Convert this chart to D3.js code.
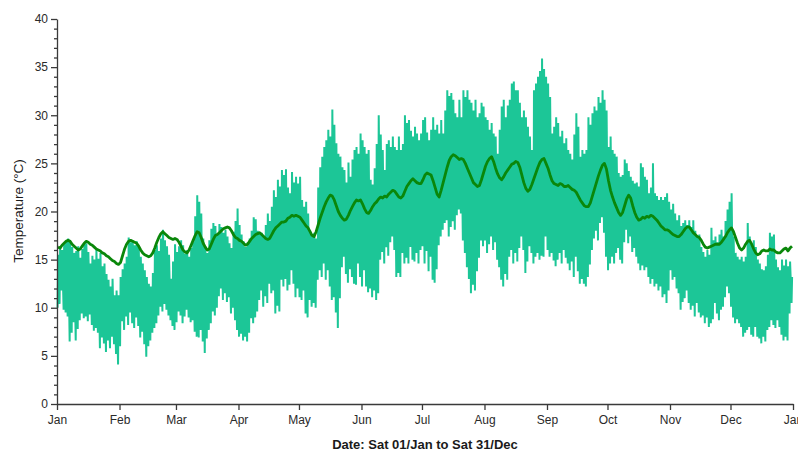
<!DOCTYPE html>
<html>
<head>
<meta charset="utf-8">
<script src="https://cdn.jsdelivr.net/npm/d3@7"></script>
<style>
  html, body { margin: 0; padding: 0; background: #fff; }
  svg { display: block; }
</style>
</head>
<body>
<svg id="chart" width="798" height="452"></svg>
<script>
// Month tick labels along the date axis (first of each month, plus the next Jan)
const monthLabels = ["Jan", "Feb", "Mar", "Apr", "May", "Jun", "Jul", "Aug", "Sep", "Oct", "Nov", "Dec", "Jan"];

// Temperature axis ticks (°C)
const yMajorTicks = [0, 5, 10, 15, 20, 25, 30, 35, 40];

// Air temperature: daily minimum and maximum, 1 Jan .. 31 Dec
const dailyMin = [
  10.0, 10.4, 11.8, 9.8, 9.5, 9.1, 6.5, 7.4, 8.5, 6.6,
  7.8, 8.7, 9.4, 8.9, 9.1, 8.6, 9.3, 8.2, 7.6, 7.9,
  7.4, 5.8, 6.9, 6.3, 5.4, 6.6, 5.8, 7.0, 6.2, 5.2, 4.1,
  6.0, 8.6, 7.7, 9.1, 8.2, 9.5, 8.4, 7.9, 9.0, 8.1,
  6.9, 7.5, 6.2, 4.9, 6.0, 6.6, 7.4, 7.9, 8.4, 9.2,
  10.1, 9.6, 10.4, 9.8, 9.2, 8.7, 8.1, 7.7, 8.5, 9.6,
  9.2, 8.4, 9.1, 9.8, 9.0, 8.5, 8.7, 7.5, 7.0, 6.9,
  7.7, 6.5, 5.3, 6.8, 7.7, 8.4, 9.6, 9.2, 10.0, 11.2,
  12.0, 10.8, 11.5, 10.6, 11.1, 9.4, 10.0, 8.7, 7.7, 7.0,
  7.3, 6.6, 7.0, 6.5, 7.4, 8.9, 8.4, 9.0, 9.6, 10.8,
  11.8, 10.1, 11.2, 10.5, 12.5, 11.5, 11.8, 9.4, 10.2, 9.6,
  12.9, 12.2, 13.0, 11.8, 12.4, 13.9, 12.5, 11.1, 12.0, 11.1,
  10.8, 11.8, 9.4, 9.0, 10.8, 10.1, 10.5, 10.0, 12.9, 13.9,
  13.2, 14.6, 12.9, 13.9, 12.2, 10.8, 11.1, 9.5, 7.9, 11.0,
  14.2, 15.3, 13.5, 12.6, 14.0, 13.2, 12.5, 12.4, 14.6, 13.2,
  12.2, 13.9, 12.2, 11.6, 12.0, 11.1, 11.8, 10.8, 11.5, 15.0,
  15.8, 14.6, 16.3, 15.4, 16.8, 17.4, 16.0, 13.2, 13.6, 13.2,
  15.7, 14.6, 15.2, 14.6, 16.3, 15.0, 14.8, 15.7, 14.6, 16.0,
  16.4, 14.6, 15.9, 13.8, 15.3, 12.9, 12.6, 14.0, 16.5, 17.4,
  18.1, 18.8, 19.1, 17.4, 18.4, 19.0, 18.1, 19.6, 20.2, 19.8,
  17.0, 15.7, 14.2, 13.0, 11.5, 12.4, 11.8, 13.8, 15.2, 17.0,
  16.4, 17.0, 15.7, 16.6, 17.4, 16.0, 16.8, 15.0, 14.2, 12.9,
  12.2, 13.5, 12.9, 15.3, 16.0, 14.6, 15.7, 14.8, 16.2, 17.4,
  16.0, 13.6, 14.8, 16.4, 15.7, 14.6, 15.3, 15.7, 15.0, 15.4,
  15.3, 17.4, 16.0, 15.3, 15.7, 14.9, 14.3, 15.0, 15.7, 14.6,
  16.0, 15.2, 14.6, 13.9, 14.8, 13.2, 15.3, 13.8, 12.5, 13.0,
  12.5, 12.2, 13.2, 14.5, 16.0, 17.2, 18.0, 17.0, 18.8, 19.4,
  17.8, 15.3, 13.9, 14.6, 15.3, 14.6, 15.7, 16.2, 15.0, 14.6,
  16.8, 18.1, 16.7, 17.4, 15.8, 16.2, 15.3, 14.6, 13.9, 14.4,
  13.9, 14.2, 13.2, 12.5, 13.0, 12.2, 12.5, 11.8, 12.2, 11.1,
  11.4, 10.5, 11.8, 13.9, 12.9, 13.2, 12.0, 11.5, 9.8, 10.6,
  11.0, 11.8, 10.5, 9.8, 10.2, 9.1, 10.5, 9.5, 9.0, 9.2,
  8.4, 9.0, 8.0, 8.4, 8.8, 10.5, 9.4, 8.7, 9.8, 10.1,
  11.1, 12.2, 11.5, 10.1, 9.0, 8.4, 8.8, 8.4, 8.0, 7.0,
  7.4, 7.7, 8.0, 7.2, 7.0, 8.0, 7.0, 6.8, 6.3, 7.0,
  6.5, 7.7, 8.0, 8.7, 8.2, 7.9, 8.7, 8.0, 7.2, 6.6, 7.0, 6.6, 9.4, 10.5
];

const dailyMax = [
  15.5, 16.2, 16.0, 16.6, 16.9, 17.2, 16.8, 16.3, 15.7, 15.9,
  16.4, 15.2, 16.1, 16.6, 16.7, 15.8, 14.6, 15.4, 15.0, 16.0,
  15.1, 15.7, 14.3, 14.6, 13.5, 12.9, 12.2, 13.0, 11.3, 11.8, 11.3,
  13.2, 14.0, 14.6, 15.3, 17.3, 16.8, 17.0, 16.5, 16.9, 16.3,
  15.3, 14.6, 13.9, 13.2, 12.5, 12.2, 13.6, 16.0, 16.5, 15.9,
  17.2, 18.1, 17.0, 16.4, 15.5, 13.0, 14.8, 16.6, 15.8, 16.4,
  17.0, 16.5, 15.6, 16.0, 15.3, 16.2, 16.8, 19.5, 21.7, 21.0,
  19.8, 17.2, 16.3, 15.7, 17.0, 18.2, 18.8, 18.5, 17.6, 18.7,
  18.4, 17.8, 18.1, 17.4, 16.7, 16.2, 17.9, 19.0, 20.3, 18.6,
  17.6, 16.9, 16.3, 16.8, 17.2, 18.0, 19.4, 19.2, 18.0, 17.8,
  17.8, 17.4, 18.6, 19.8, 19.0, 20.5, 22.2, 21.5, 23.3, 22.6,
  24.3, 23.8, 24.4, 22.5, 21.9, 24.1, 23.0, 23.6, 22.9, 23.6,
  21.2, 20.5, 21.0, 19.8, 18.0, 17.4, 17.8, 17.2, 22.5, 24.6,
  25.7, 26.7, 27.4, 28.5, 27.8, 30.6, 29.0, 27.1, 26.0, 25.7,
  24.6, 24.3, 23.0, 25.1, 23.6, 25.4, 26.4, 26.7, 26.0, 28.1,
  27.4, 26.7, 26.0, 26.4, 23.3, 22.8, 24.5, 27.0, 30.0, 28.0,
  26.4, 24.3, 27.0, 27.4, 26.7, 27.8, 26.7, 26.4, 27.8, 26.4,
  27.0, 30.0, 29.2, 29.5, 28.4, 27.8, 28.8, 28.1, 27.4, 28.1,
  29.5, 29.8, 28.2, 27.4, 28.5, 29.8, 28.5, 29.0, 28.1, 29.5,
  28.1, 30.5, 32.6, 32.0, 32.3, 31.6, 30.2, 29.8, 31.6, 29.8,
  32.6, 31.9, 32.6, 31.6, 31.3, 30.5, 31.6, 29.8, 30.2, 31.3,
  30.9, 29.8, 29.5, 28.5, 29.2, 28.1, 27.8, 26.0, 28.5, 30.9,
  31.6, 29.8, 31.0, 31.6, 33.3, 33.5, 32.6, 32.6, 31.3, 29.8,
  30.5, 29.8, 28.8, 27.8, 26.4, 32.6, 33.3, 34.0, 34.6, 35.9,
  34.8, 34.0, 33.3, 31.9, 28.1, 28.8, 29.8, 29.2, 27.8, 28.4,
  27.1, 27.6, 26.4, 26.0, 25.4, 28.0, 30.2, 28.8, 25.7, 26.4,
  26.0, 26.4, 29.8, 29.0, 30.2, 30.9, 30.5, 31.9, 31.3, 32.6,
  31.6, 30.5, 26.7, 27.8, 26.4, 26.0, 25.7, 24.0, 23.6, 23.8,
  25.4, 25.0, 24.2, 23.6, 23.2, 22.9, 23.0, 22.6, 25.0, 24.6,
  23.6, 23.3, 21.9, 22.5, 25.0, 21.9, 21.6, 21.2, 21.5, 21.2,
  21.5, 21.9, 21.0, 20.2, 20.8, 19.8, 19.1, 19.6, 18.5, 18.8,
  19.1, 18.6, 19.1, 18.4, 19.1, 18.0, 17.4, 17.6, 16.3, 15.8,
  15.3, 16.0, 15.5, 18.3, 17.0, 17.4, 16.8, 17.6, 18.1, 17.4,
  19.0, 20.2, 21.0, 21.9, 17.4, 15.7, 15.3, 15.0, 15.3, 14.8,
  15.3, 18.8, 17.4, 16.6, 17.0, 16.3, 15.0, 14.6, 14.0, 13.9,
  14.3, 15.5, 17.8, 17.4, 17.6, 15.0, 14.2, 13.9, 15.0, 14.4, 15.0, 14.3, 14.8, 13.2
];

// Slow-moving temperature trace, one value per day
const smoothTemp = [
  16.3, 16.2, 16.5, 16.7, 16.9, 17.0, 16.9, 16.6, 16.4, 16.2,
  16.0, 16.1, 16.4, 16.7, 16.9, 16.8, 16.6, 16.5, 16.3, 16.1,
  16.0, 15.9, 15.7, 15.6, 15.4, 15.3, 15.1, 14.9, 14.8, 14.6,
  14.5, 14.7, 15.4, 16.1, 16.6, 16.9, 17.0, 16.9, 16.8, 16.7,
  16.4, 16.0, 15.7, 15.5, 15.4, 15.3, 15.4, 15.7, 16.2, 16.8,
  17.3, 17.7, 17.9, 17.7, 17.5, 17.3, 17.2, 17.1, 17.2, 17.1,
  16.8, 16.4, 16.0, 15.8, 15.7, 16.0, 16.5, 17.0, 17.5, 17.9,
  17.8, 17.3, 16.7, 16.3, 16.0, 16.1, 16.6, 17.1, 17.5, 17.6,
  17.8, 18.0, 18.2, 18.3, 18.4, 18.3, 18.0, 17.6, 17.3, 17.2,
  17.0, 16.9, 16.7, 16.5, 16.6, 16.9, 17.2, 17.4, 17.6, 17.7,
  17.8, 17.6, 17.4, 17.2, 17.1, 17.2, 17.6, 18.0, 18.3, 18.5,
  18.7, 18.9, 18.9, 19.0, 19.3, 19.4, 19.6, 19.5, 19.6, 19.5,
  19.4, 19.1, 18.8, 18.5, 18.3, 17.9, 17.5, 17.4, 17.9, 18.6,
  19.3, 19.9, 20.5, 21.0, 21.4, 21.7, 21.6, 21.2, 20.6, 20.0,
  19.6, 19.3, 19.1, 19.2, 19.6, 20.1, 20.5, 20.9, 21.2, 21.1,
  21.2, 20.8, 20.3, 19.9, 19.8, 20.1, 20.5, 20.8, 21.0, 21.3,
  21.5, 21.4, 21.6, 21.5, 21.8, 22.0, 22.2, 22.1, 21.8, 21.5,
  21.4, 21.6, 22.1, 22.6, 22.9, 23.2, 23.4, 23.2, 23.0, 22.9,
  22.9, 23.3, 23.8, 24.0, 23.9, 23.8, 23.2, 22.5, 21.8, 21.5,
  22.2, 23.0, 23.8, 24.6, 25.3, 25.7, 25.9, 25.8, 25.6, 25.4,
  25.5, 25.4, 25.0, 24.5, 24.0, 23.5, 23.0, 22.8, 22.6, 22.7,
  23.3, 24.0, 24.7, 25.2, 25.5, 25.7, 25.2, 24.5, 23.9, 23.5,
  23.3, 23.6, 24.0, 24.3, 24.6, 24.9, 25.0, 25.2, 25.1, 24.6,
  23.8, 23.0, 22.4, 22.1, 22.3, 22.8, 23.4, 24.0, 24.6, 25.1,
  25.4, 25.5, 25.0, 24.5, 23.8, 23.2, 22.9, 22.8, 22.7, 22.9,
  22.8, 22.6, 22.6, 22.7, 22.5, 22.3, 22.2, 22.0, 21.6, 21.2,
  20.9, 20.6, 20.5, 20.5, 20.9, 21.6, 22.3, 23.0, 23.7, 24.3,
  24.8, 25.0, 24.4, 23.2, 22.2, 21.5, 20.9, 20.4, 19.9, 19.6,
  19.9, 20.6, 21.3, 21.7, 21.4, 20.6, 19.9, 19.4, 19.1, 19.2,
  19.4, 19.3, 19.5, 19.4, 19.6, 19.5, 19.3, 19.1, 18.8, 18.5,
  18.3, 18.1, 18.1, 18.0, 17.8, 17.6, 17.5, 17.4, 17.4, 17.6,
  17.9, 18.2, 18.4, 18.4, 18.1, 17.8, 17.6, 17.4, 17.3, 17.0,
  16.6, 16.3, 16.2, 16.3, 16.4, 16.5, 16.6, 16.6, 16.6, 16.8,
  17.1, 17.4, 17.8, 18.1, 18.3, 17.9, 17.3, 16.7, 16.2, 16.0,
  16.2, 16.6, 16.9, 17.0, 16.6, 16.1, 15.7, 15.5, 15.6, 15.9,
  16.0, 15.9, 15.9, 16.1, 16.0, 16.0, 15.8, 15.7, 15.7, 15.9,
  16.1, 16.2, 15.9, 16.2, 16.4
];

const width = 798, height = 452;
const margin = { top: 19, right: 5, bottom: 48, left: 57 };
const DAY_MS = 864e5;
const yearStart = Date.UTC(2022, 0, 1);
const atDay = d => new Date(yearStart + d * DAY_MS);

const svg = d3.select("#chart");
const fontFamily = "'Liberation Sans', Arial, Helvetica, sans-serif";

const x = d3.scaleUtc()
  .domain([atDay(0), new Date(Date.UTC(2023, 0, 1))])
  .range([margin.left, width - margin.right]);

const y = d3.scaleLinear()
  .domain([0, 40])
  .range([height - margin.bottom, margin.top]);

// Daily low around dawn, high mid-afternoon: trace the swing as one line
const swing = [];
dailyMin.forEach((lo, i) => {
  swing.push({ t: atDay(i + 0.28), v: lo });
  swing.push({ t: atDay(i + 0.55), v: dailyMax[i] });
});

const plot = svg.append("g");

plot.append("path")
  .datum(swing)
  .attr("fill", "none")
  .attr("stroke", "#1cc697")
  .attr("stroke-width", 2)
  .attr("stroke-linejoin", "bevel")
  .attr("d", d3.line().x(p => x(p.t)).y(p => y(p.v)));

plot.append("path")
  .datum(smoothTemp.map((v, i) => ({ t: atDay(i + 0.5), v })))
  .attr("fill", "none")
  .attr("stroke", "#0a870a")
  .attr("stroke-width", 2.8)
  .attr("stroke-linejoin", "round")
  .attr("d", d3.line().x(p => x(p.t)).y(p => y(p.v)));

// X axis: first day of each month
const monthTicks = monthLabels.map((_, i) => new Date(Date.UTC(2022, i, 1)));
svg.append("g")
  .attr("transform", `translate(0,${height - margin.bottom})`)
  .call(d3.axisBottom(x)
    .tickValues(monthTicks)
    .tickFormat((d, i) => monthLabels[i])
    .tickSize(6)
    .tickSizeOuter(0)
    .tickPadding(5));

// Y axis: labelled every 5 °C, minor ticks every 1 °C
svg.append("g")
  .attr("transform", `translate(${margin.left},0)`)
  .call(d3.axisLeft(y)
    .tickValues(yMajorTicks)
    .tickSize(6)
    .tickSizeOuter(0)
    .tickPadding(3));

const minorTicks = d3.range(0, 41).filter(v => v % 5 !== 0);
svg.append("g")
  .attr("transform", `translate(${margin.left},0)`)
  .call(d3.axisLeft(y).tickValues(minorTicks).tickSize(3).tickFormat(""))
  .call(g => g.select(".domain").remove());

svg.selectAll(".domain, .tick line")
  .attr("stroke", "#3a3a3a")
  .attr("stroke-width", 1.3);

svg.selectAll(".tick text")
  .attr("font-family", fontFamily)
  .attr("font-size", 12)
  .attr("fill", "#2a2a2a");

// Axis titles
svg.append("text")
  .attr("transform", "rotate(-90)")
  .attr("x", -211)
  .attr("y", 23)
  .attr("text-anchor", "middle")
  .attr("font-family", fontFamily)
  .attr("font-size", 13.5)
  .attr("fill", "#1a1a1a")
  .text("Temperature (°C)");

svg.append("text")
  .attr("x", (margin.left + width - margin.right) / 2)
  .attr("y", 449)
  .attr("text-anchor", "middle")
  .attr("font-family", fontFamily)
  .attr("font-size", 13)
  .attr("font-weight", "bold")
  .attr("fill", "#1a1a1a")
  .text("Date: Sat 01/Jan to Sat 31/Dec");
</script>
</body>
</html>
